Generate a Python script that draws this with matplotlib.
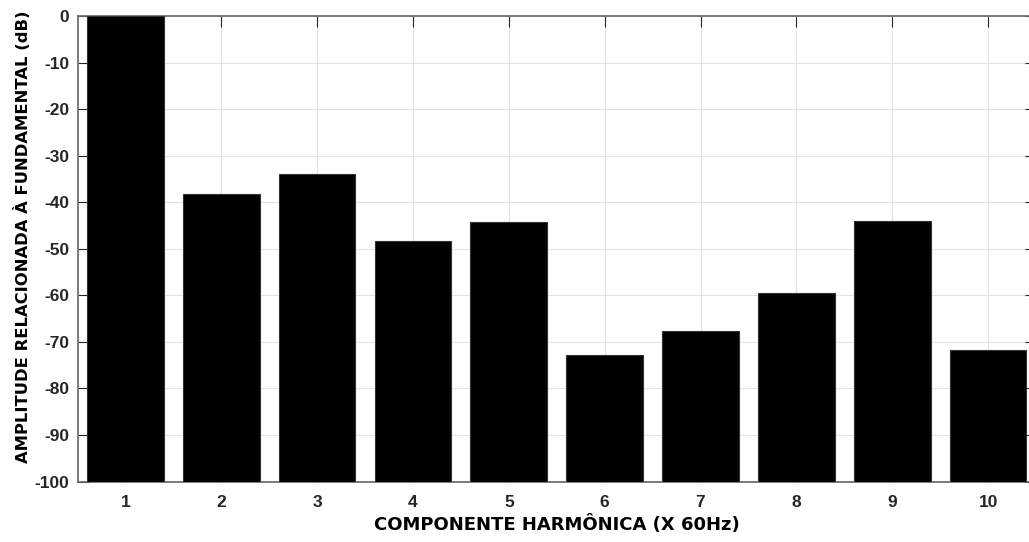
import matplotlib
matplotlib.use("Agg")
import matplotlib.pyplot as plt
import numpy as np

harmonics = [1, 2, 3, 4, 5, 6, 7, 8, 9, 10]
amplitude_db = [0.0, -38.3, -33.9, -48.3, -44.3, -72.8, -67.6, -59.5, -44.1, -71.8]
y_ticks = [-100, -90, -80, -70, -60, -50, -40, -30, -20, -10, 0]

W, H = 1029, 542
fig = plt.figure(figsize=(W / 100, H / 100), dpi=100)
left, right, top, bottom = 77.5, 1036, 16, 481.5
ax = fig.add_axes([left / W, 1 - bottom / H, (right - left) / W, (bottom - top) / H])

base = -100
heights = [v - base for v in amplitude_db]
ax.bar(harmonics, heights, bottom=base, width=0.8, color="black",
       edgecolor="#333333", linewidth=0.8, zorder=3)

ax.set_xlim(0.5, 10.5)
ax.set_ylim(-100, 0)
ax.set_xticks(harmonics)
ax.set_yticks(y_ticks)
ax.grid(True, color="#e3e3e3", linewidth=0.8, zorder=0)
ax.set_axisbelow(True)

tick_font = dict(family="Liberation Sans", weight="bold", size=12.5)
ax.set_xticklabels([str(h) for h in harmonics], fontdict=tick_font, color="#262626")
ax.set_yticklabels([str(t) for t in y_ticks], fontdict=tick_font, color="#262626")
ax.tick_params(direction="in", length=8, width=0.8, color="#262626",
               top=True, right=True)
ax.tick_params(axis="x", pad=10)
ax.tick_params(axis="y", pad=6)
for s in ax.spines.values():
    s.set_color("#666666")
    s.set_linewidth(1.2)

fig.text(556.5 / W, 1 - 525 / H, "COMPONENTE HARMÔNICA (X 60Hz)",
         family="DejaVu Sans", weight="bold", size=13, ha="center", va="center")
fig.text(22.5 / W, 1 - 237 / H, "AMPLITUDE RELACIONADA À FUNDAMENTAL (dB)",
         family="DejaVu Sans", weight="bold", size=11.8, ha="center", va="center",
         rotation=90)

fig.savefig("out.png", dpi=100)
